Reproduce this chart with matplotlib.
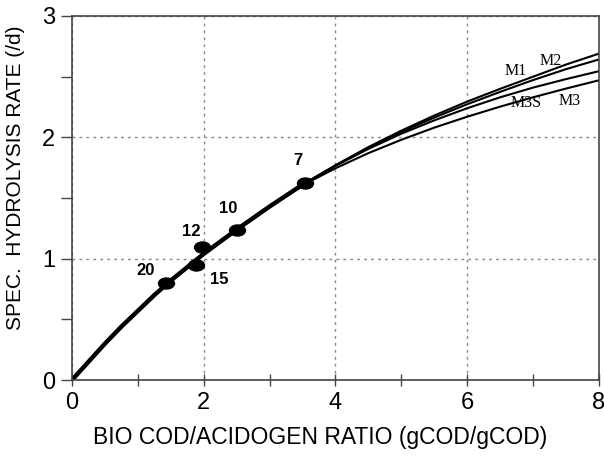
import numpy as np
import matplotlib
matplotlib.use("Agg")
import matplotlib.pyplot as plt
from matplotlib.path import Path
from matplotlib.transforms import Affine2D

# model curves
x_kurwy = [0, 0.25, 0.5, 0.75, 1, 1.25, 1.5, 2, 2.5, 3, 3.5,
           4, 4.5, 5, 5.5, 6, 6.5, 7, 7.5, 8]
baza = [0, 0.15, 0.30, 0.44, 0.57, 0.70, 0.82, 1.04, 1.24, 1.43, 1.61]
m2 = baza + [1.77, 1.92, 2.055, 2.18, 2.295, 2.40, 2.50, 2.60, 2.69]
m1 = baza + [1.768, 1.913, 2.043, 2.163, 2.273, 2.375, 2.472, 2.562, 2.642]
m3s = baza + [1.765, 1.905, 2.03, 2.14, 2.24, 2.33, 2.41, 2.48, 2.545]
m3 = baza[:-1] + [1.605, 1.745, 1.87, 1.98, 2.08, 2.17, 2.253, 2.33, 2.402, 2.47]

# measured points
pkt_x = [1.43, 1.89, 1.98, 2.50, 3.54]
pkt_y = [0.80, 0.95, 1.10, 1.24, 1.62]
pkt_etykiety = ["20", "15", "12", "10", "7"]
etyk_x = [1.11, 2.23, 1.81, 2.37, 3.43]
etyk_y = [0.90, 0.83, 1.22, 1.41, 1.81]

model_nazwy = ["M1", "M2", "M3S", "M3"]
model_x = [6.74, 7.26, 6.90, 7.55]
model_y = [2.55, 2.63, 2.28, 2.30]

plt.rcParams["font.family"] = ["Liberation Sans", "DejaVu Sans"]

fig = plt.figure(figsize=(6.04, 4.61), dpi=100)
ax = fig.add_axes([0.1192, 0.1757, 0.8725, 0.7896])

for y in (m2, m1, m3s, m3):
    ax.plot(x_kurwy, y, color="black", lw=1.5, solid_capstyle="butt")
ax.plot(x_kurwy[:11], baza, color="black", lw=3.2)

elipsa = Path.unit_circle().transformed(Affine2D().scale(1.45, 1.0))
ax.plot(pkt_x, pkt_y, linestyle="none", marker=elipsa, markersize=11.5,
        color="black", zorder=5)

for tx, ty, t in zip(etyk_x, etyk_y, pkt_etykiety):
    ax.text(tx, ty, t, fontsize=12, fontweight="bold", ha="center", va="center")

for tx, ty, t in zip(model_x, model_y, model_nazwy):
    ax.text(tx, ty, t, fontsize=11.5, family=["Liberation Serif"],
            ha="center", va="center")

ax.set_xlim(0, 8)
ax.set_ylim(0, 3)
ax.set_xticks([0, 2, 4, 6, 8])
ax.set_yticks([0, 1, 2, 3])
ax.set_xticks([1, 3, 5, 7], minor=True)
ax.set_yticks([0.5, 1.5, 2.5], minor=True)
ax.tick_params(axis="x", which="both", direction="inout", length=9, width=1,
               labelsize=17, pad=4, colors="#444444", labelcolor="black")
ax.tick_params(axis="y", which="both", direction="out", length=8, width=1,
               labelsize=17, pad=4, colors="#444444", labelcolor="black")
ax.grid(which="major", color="#888888", linestyle=(0, (2, 3)), lw=1)
for s in ax.spines.values():
    s.set_color("#444444")
    s.set_linewidth(1.2)

ax.set_xlabel("BIO COD/ACIDOGEN RATIO (gCOD/gCOD)", fontsize=16.5, va="center")
ax.set_ylabel("SPEC.  HYDROLYSIS RATE (/d)", fontsize=15, va="center")
ax.xaxis.set_label_coords(0.47, -0.157)
ax.yaxis.set_label_coords(-0.108, 0.555)

fig.savefig("out.png", dpi=100)
